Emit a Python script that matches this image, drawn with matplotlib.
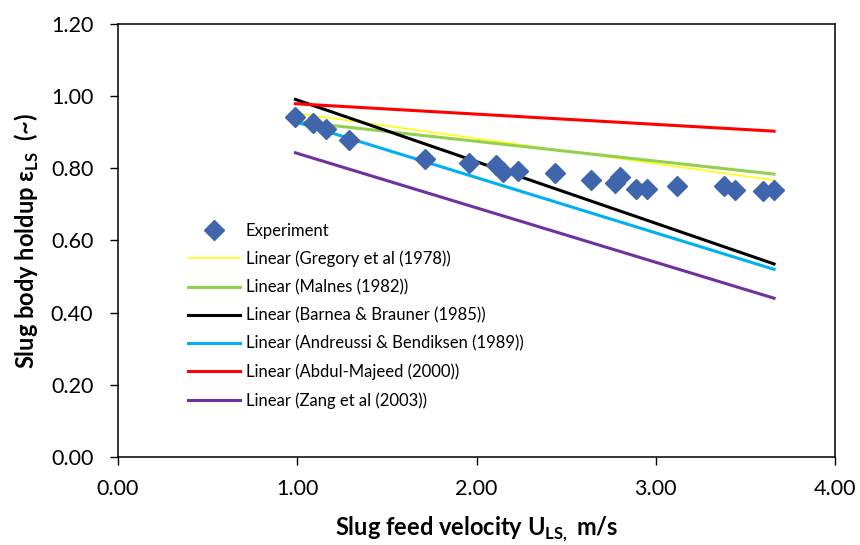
import matplotlib
matplotlib.use('Agg')
import matplotlib.pyplot as plt

plt.rcParams['font.family'] = ['Lato', 'DejaVu Sans']
plt.rcParams['mathtext.fontset'] = 'custom'
plt.rcParams['mathtext.rm'] = 'Lato'
plt.rcParams['mathtext.bf'] = 'Lato:bold'

# measured slug body holdup vs. slug feed velocity
u_ls = [0.99, 1.09, 1.16, 1.29, 1.71, 1.96, 2.11, 2.15, 2.23, 2.44,
        2.64, 2.77, 2.80, 2.89, 2.95, 3.12, 3.38, 3.44, 3.60, 3.66]
holdup = [0.943, 0.927, 0.910, 0.878, 0.825, 0.815, 0.809, 0.789, 0.793, 0.786,
          0.767, 0.760, 0.775, 0.744, 0.744, 0.751, 0.750, 0.739, 0.736, 0.739]

# linear trend of each correlation over the same velocity range
trend_x = [0.99, 3.66]
models = ['Gregory et al (1978)', 'Malnes (1982)', 'Barnea & Brauner (1985)',
          'Andreussi & Bendiksen (1989)', 'Abdul-Majeed (2000)', 'Zang et al (2003)']
trend_start = [0.953, 0.930, 0.991, 0.929, 0.979, 0.843]
trend_end = [0.767, 0.784, 0.535, 0.520, 0.903, 0.440]
colors = ['#FFFF00', '#92D050', '#000000', '#00B0F0', '#FF0000', '#7030A0']
widths = [1.1, 2.2, 2.2, 2.2, 2.2, 2.2]

fig = plt.figure(figsize=(8.6, 5.45), dpi=100)
ax = fig.add_axes([118 / 860, 1 - 457 / 545, 717 / 860, 433 / 545])

ax.plot(u_ls, holdup, linestyle='none', marker='D', markersize=10,
        color='#3F65AD', label='Experiment', zorder=3)
for name, y0, y1, c, lw in zip(models, trend_start, trend_end, colors, widths):
    ax.plot(trend_x, [y0, y1], color=c, linewidth=lw, label=f'Linear ({name})')

ax.set_xlim(0, 4)
ax.set_ylim(0, 1.2)
ax.set_xticks([0, 1, 2, 3, 4])
ax.set_yticks([0, 0.2, 0.4, 0.6, 0.8, 1.0, 1.2])
ax.xaxis.set_major_formatter(matplotlib.ticker.FormatStrFormatter('%.2f'))
ax.yaxis.set_major_formatter(matplotlib.ticker.FormatStrFormatter('%.2f'))
ax.tick_params(direction='out', length=5.8, width=1, labelsize=15.5, color='black')
ax.tick_params(axis='x', pad=10)
ax.tick_params(axis='y', pad=12)
for s in ax.spines.values():
    s.set_linewidth(1.1)

fig.text(477 / 860, 1 - 529 / 545, r'Slug feed velocity U$_{\mathbf{LS,}}$ m/s',
         ha='center', va='center', fontsize=17, fontweight='bold')
fig.text(27 / 860, 1 - 241 / 545, r'Slug body holdup ε$_{\mathbf{LS}}$  (~)',
         ha='center', va='center', rotation=90, fontsize=17, fontweight='bold')

ax.legend(loc='upper left', bbox_to_anchor=(0.0976, 0.541), frameon=False,
          fontsize=12, numpoints=1, handlelength=3.1, handletextpad=0.36,
          labelspacing=0.72, borderpad=0, borderaxespad=0)

fig.savefig('out.png', dpi=100)
